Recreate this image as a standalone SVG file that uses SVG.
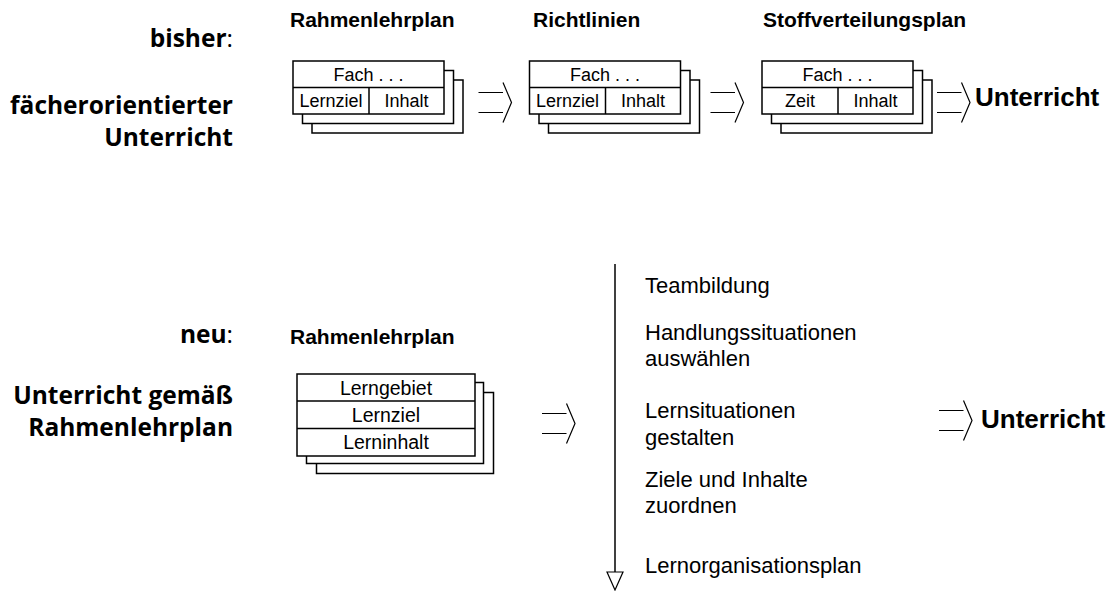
<svg xmlns="http://www.w3.org/2000/svg" width="1113" height="591" viewBox="0 0 1113 591">
<style>
.lbl{font-family:"Open Sans","Noto Sans",sans-serif;font-weight:700;font-size:24.5px;fill:#000;text-anchor:end}
.lbl .n{font-weight:400}
.hd{font-family:"Liberation Sans",Arial,sans-serif;font-weight:700;font-size:21px;fill:#000}
.big{font-family:"Liberation Sans",Arial,sans-serif;font-weight:700;font-size:26px;fill:#000}
.bx{font-family:"Liberation Sans",Arial,sans-serif;font-size:18px;fill:#000;text-anchor:middle}
.bx2{font-family:"Liberation Sans",Arial,sans-serif;font-size:19.5px;fill:#000;text-anchor:middle}
.st{font-family:"Liberation Sans",Arial,sans-serif;font-size:22px;fill:#000}
.card{fill:#fff;stroke:#000;stroke-width:1.5}
.ln{fill:none;stroke:#000;stroke-width:1.5}
.ar{fill:none;stroke:#000;stroke-width:1.2}
</style>
<defs>
<g id="stack3">
<rect class="card" x="19" y="19" width="151" height="53"/>
<rect class="card" x="9.5" y="9.5" width="151" height="53"/>
<rect class="card" x="0" y="0" width="151" height="53"/>
<line class="ln" x1="0" y1="26.5" x2="151" y2="26.5"/>
<line class="ln" x1="76" y1="26.5" x2="76" y2="53"/>
</g>
<path id="harrow" class="ar" d="M0,-10 H24.5 M0,10 H24.5 M24.5,-20 L33,0 L24.5,20"/>
</defs>

<g id="labels">
<text class="lbl" x="233" y="47">bisher<tspan class="n">:</tspan></text>
<text class="lbl" x="233" y="114">fächerorientierter</text>
<text class="lbl" x="233" y="146">Unterricht</text>
<text class="lbl" x="233" y="343">neu<tspan class="n">:</tspan></text>
<text class="lbl" x="233" y="404">Unterricht gemäß</text>
<text class="lbl" x="233" y="436">Rahmenlehrplan</text>
</g>

<g id="node-rahmenlehrplan-alt">
<text class="hd" x="290" y="27">Rahmenlehrplan</text>
<use href="#stack3" x="293" y="61"/>
<text class="bx" x="368.5" y="80.5">Fach . . .</text>
<text class="bx" x="331" y="106.5">Lernziel</text>
<text class="bx" x="406.5" y="106.5">Inhalt</text>
</g>

<g id="node-richtlinien">
<text class="hd" x="533" y="27">Richtlinien</text>
<use href="#stack3" x="529.5" y="61"/>
<text class="bx" x="605" y="80.5">Fach . . .</text>
<text class="bx" x="567.5" y="106.5">Lernziel</text>
<text class="bx" x="643" y="106.5">Inhalt</text>
</g>

<g id="node-stoffverteilungsplan">
<text class="hd" x="763" y="27">Stoffverteilungsplan</text>
<use href="#stack3" x="762" y="61"/>
<text class="bx" x="837.5" y="80.5">Fach . . .</text>
<text class="bx" x="800" y="106.5">Zeit</text>
<text class="bx" x="875.5" y="106.5">Inhalt</text>
</g>

<g id="node-unterricht-alt">
<text class="big" x="975" y="106">Unterricht</text>
</g>

<g id="node-rahmenlehrplan-neu">
<text class="hd" x="290" y="344">Rahmenlehrplan</text>
<rect class="card" x="316.5" y="392.5" width="177" height="81"/>
<rect class="card" x="306.5" y="382.5" width="177" height="81"/>
<rect class="card" x="297" y="374" width="178" height="82"/>
<line class="ln" x1="297" y1="401" x2="475" y2="401"/>
<line class="ln" x1="297" y1="428.5" x2="475" y2="428.5"/>
<text class="bx2" x="386" y="394.5">Lerngebiet</text>
<text class="bx2" x="386" y="421.5">Lernziel</text>
<text class="bx2" x="386" y="448.5">Lerninhalt</text>
</g>

<g id="node-schritte">
<text class="st" x="645" y="293">Teambildung</text>
<text class="st" x="645" y="340">Handlungssituationen</text>
<text class="st" x="645" y="366">auswählen</text>
<text class="st" x="645" y="418">Lernsituationen</text>
<text class="st" x="645" y="445">gestalten</text>
<text class="st" x="645" y="487">Ziele und Inhalte</text>
<text class="st" x="645" y="513">zuordnen</text>
<text class="st" x="645" y="573">Lernorganisationsplan</text>
</g>

<g id="node-unterricht-neu">
<text class="big" x="981" y="428">Unterricht</text>
</g>

<g id="connectors">
<use href="#harrow" x="478.5" y="102.5"/>
<use href="#harrow" x="710.5" y="102.5"/>
<use href="#harrow" x="937" y="102.5"/>
<use href="#harrow" x="542" y="423.5"/>
<use href="#harrow" x="939" y="420.5"/>
<line class="ln" x1="615" y1="264" x2="615" y2="572"/>
<path class="ar" d="M607,572 H623 L615,590 Z" fill="#fff"/>
</g>
</svg>
